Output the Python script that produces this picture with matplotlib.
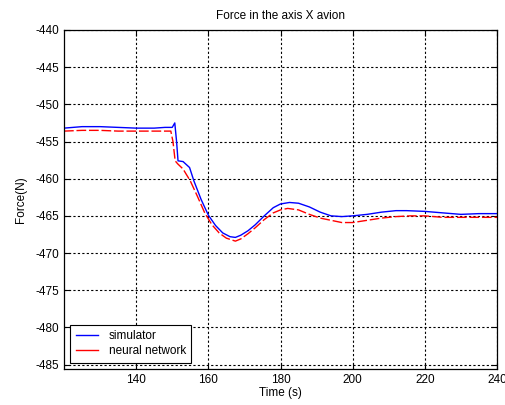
import numpy as np
import matplotlib.pyplot as plt

plt.rcParams['font.family'] = ['Liberation Sans', 'DejaVu Sans']
plt.rcParams['axes.unicode_minus'] = False

# values
t_sim = [120, 125, 130, 135, 140, 145, 148, 150, 150.7, 151.2, 151.6, 153, 154.8, 156,
         158, 160, 162, 164, 166, 167.5, 169, 171, 173, 175.5, 178, 180, 182.5, 185,
         188, 191, 194, 197, 200, 204, 208, 212, 215, 220, 225, 230, 235, 240]
f_sim = [-453.2, -453.0, -453.0, -453.1, -453.2, -453.2, -453.1, -453.1, -452.5, -455.0,
         -457.6, -457.7, -458.5, -460.3, -462.8, -464.9, -466.3, -467.3, -467.8, -467.9,
         -467.6, -467.0, -466.2, -465.0, -463.9, -463.4, -463.2, -463.3, -463.8, -464.5,
         -465.0, -465.1, -465.0, -464.8, -464.5, -464.3, -464.3, -464.4, -464.6, -464.8,
         -464.7, -464.7]

t_nn = [120, 125, 130, 135, 140, 145, 149.6, 150.2, 150.8, 151.5, 153, 155, 157, 159,
        161, 163, 165, 167.5, 169, 171, 173, 175.5, 178, 180, 182, 185, 188, 191, 194,
        197, 200, 204, 208, 212, 216, 220, 225, 230, 235, 240]
f_nn = [-453.6, -453.5, -453.5, -453.6, -453.6, -453.6, -453.6, -455.0, -457.6, -458.0,
        -458.7, -460.3, -462.4, -464.6, -466.2, -467.3, -468.0, -468.4, -468.1, -467.4,
        -466.6, -465.5, -464.6, -464.2, -464.0, -464.2, -464.8, -465.3, -465.6, -465.9,
        -465.9, -465.6, -465.3, -465.1, -465.0, -465.0, -465.2, -465.2, -465.2, -465.2]

x_ticks = [140, 160, 180, 200, 220, 240]
y_ticks = [-440, -445, -450, -455, -460, -465, -470, -475, -480, -485]

fig = plt.figure(figsize=(5.05, 4.05), dpi=100)
ax = fig.add_axes([64 / 505, 1 - 369 / 405, 433 / 505, 339 / 405])

ax.plot(t_sim, f_sim, color='blue', lw=1.0, label='simulator')
ax.plot(t_nn, f_nn, color='red', lw=1.0, dashes=(7, 2), label='neural network')

ax.set_xlim(120, 240)
ax.set_ylim(-485.6, -440)
ax.set_xticks(x_ticks)
ax.set_yticks(y_ticks)
ax.tick_params(direction='in', top=True, right=True, labelsize=8.5, length=4, width=0.8)
ax.grid(True, color='black', linestyle=(0, (2, 2)), linewidth=0.8)
for s in ax.spines.values():
    s.set_linewidth(0.9)

ax.set_title('Force in the axis X avion', fontsize=8.5, pad=8)
ax.set_xlabel('Time (s)', fontsize=8.5, labelpad=1)
ax.set_ylabel('Force(N)', fontsize=8.5, labelpad=6)

leg = ax.legend(loc='lower left', fontsize=8.5, fancybox=False, framealpha=1,
                edgecolor='black', handlelength=1.9, handletextpad=0.9,
                borderaxespad=0.55, borderpad=0.45, labelspacing=0.25)
leg.get_frame().set_linewidth(0.8)
for h in leg.get_lines():
    h.set_linestyle('-')

fig.savefig('out.png', dpi=100)
